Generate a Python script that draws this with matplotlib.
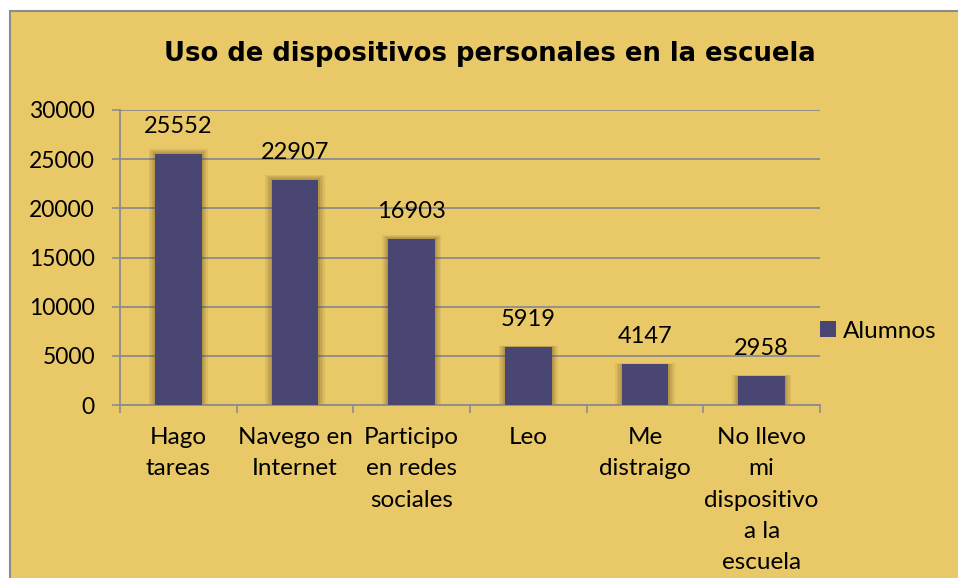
import matplotlib.pyplot as plt
from matplotlib.patches import Rectangle

categories = ['Hago\ntareas', 'Navego en\nInternet', 'Participo\nen redes\nsociales',
              'Leo', 'Me\ndistraigo', 'No llevo\nmi\ndispositivo\na la\nescuela']
alumnos = [25552, 22907, 16903, 5919, 4147, 2958]
yticks = [0, 5000, 10000, 15000, 20000, 25000, 30000]

gold = '#E9C867'
bar_color = '#4A4673'
grid_color = '#8C8C8C'
font = 'Lato'

plt.rcParams['font.family'] = [font, 'DejaVu Sans']

fig = plt.figure(figsize=(9.58, 5.78), dpi=100)
fig.patch.set_facecolor('white')
fig.add_artist(Rectangle((10 / 958, -0.05), 1.1, 1 - 11 / 578 + 0.05,
                         transform=fig.transFigure, facecolor=gold,
                         edgecolor=grid_color, linewidth=1.5, zorder=-10))

ax = fig.add_axes([120 / 958, 1 - 405 / 578, 700 / 958, 295 / 578])
ax.set_facecolor('none')

x = range(len(categories))

# soft shadow behind the bars
for i, extra in enumerate([0.11, 0.08, 0.055, 0.035, 0.02]):
    ax.bar(x, [v * (1 + 0.004 * (5 - i)) for v in alumnos], width=0.4 + extra,
           color='#4a3810', alpha=0.08, zorder=2, linewidth=0)

ax.bar(x, alumnos, width=0.4, color=bar_color, zorder=3, label='Alumnos')

for xi, v in zip(x, alumnos):
    ax.annotate(str(v), (xi, v), xytext=(0, 15), textcoords='offset points',
                ha='center', va='baseline', fontsize=17)

ax.set_ylim(0, 30000)
ax.set_xlim(-0.5, len(categories) - 0.5)
ax.set_yticks(yticks)
ax.set_xticks([i - 0.5 for i in range(len(categories) + 1)], minor=False)
ax.set_xticklabels([])
ax.set_xticks(list(x), minor=True)
ax.set_xticklabels(categories, minor=True, fontsize=17.5, linespacing=1.6)
ax.tick_params(axis='x', which='major', length=6, color=grid_color, width=1.2)
ax.tick_params(axis='x', which='minor', length=0, pad=16)
ax.tick_params(axis='y', length=6, color=grid_color, width=1.2, labelsize=16.5, pad=12)

ax.grid(axis='y', color=grid_color, linewidth=1.3, zorder=1)
ax.set_axisbelow(True)
for s in ['top', 'right']:
    ax.spines[s].set_visible(False)
for s in ['left', 'bottom']:
    ax.spines[s].set_color(grid_color)
    ax.spines[s].set_linewidth(1.3)

ax.legend(loc='center left', bbox_to_anchor=(1.0, 0.25), frameon=False, fontsize=17.5,
          handlelength=0.65, handleheight=0.65, handletextpad=0.3, borderpad=0,
          borderaxespad=0)

fig.text(490 / 958, 1 - 54 / 578, 'Uso de dispositivos personales en la escuela',
         ha='center', va='center', fontsize=18.6, fontweight='bold', family='DejaVu Sans')

fig.savefig('out.png', dpi=100)
